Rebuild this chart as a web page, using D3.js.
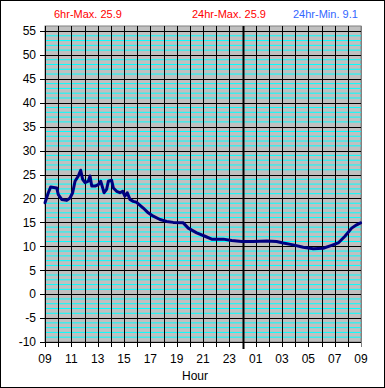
<!DOCTYPE html>
<html>
<head>
<meta charset="utf-8">
<script src="https://cdn.jsdelivr.net/npm/d3@7"></script>
<style>
body { margin: 0; background: #fff; }
svg { display: block; font-family: "Liberation Sans", Arial, sans-serif; }
</style>
</head>
<body>
<div id="chart"></div>
<script>
// hours since 09:00, temperature
var hours = [0.00, 0.25, 0.43, 0.89, 1.01, 1.27, 1.65, 1.90, 2.10, 2.28, 2.53, 2.71, 2.86, 3.04,
    3.29, 3.42, 3.55, 3.80, 4.05, 4.23, 4.38, 4.48, 4.68, 4.81, 5.06, 5.19, 5.44, 5.69, 5.90,
    6.07, 6.25, 6.45, 6.70, 6.96, 7.46, 7.84, 8.22, 8.73, 9.24, 9.74, 10.50, 10.88, 11.52,
    12.15, 12.66, 13.54, 14.18, 14.94, 15.82, 16.83, 17.59, 18.09, 18.85, 19.61, 20.37,
    21.13, 21.77, 22.27, 22.78, 23.29, 23.67, 23.97];
var temps = [19.1, 21.2, 22.4, 22.2, 20.8, 19.8, 19.6, 20.1, 21.2, 23.6, 24.7, 25.9, 24.0, 23.3,
    23.6, 24.7, 22.6, 22.6, 22.9, 23.6, 22.2, 21.2, 21.9, 23.6, 23.8, 22.2, 21.5, 21.2, 21.5,
    20.5, 21.2, 19.8, 19.4, 19.2, 18.0, 17.0, 16.3, 15.6, 15.2, 15.0, 14.9, 13.8, 12.8,
    12.1, 11.5, 11.5, 11.2, 11.0, 11.0, 11.1, 11.0, 10.7, 10.3, 9.8, 9.5,
    9.6, 10.2, 10.7, 12.1, 13.8, 14.5, 14.9];

var xTickLabels = ["09", "11", "13", "15", "17", "19", "21", "23", "01", "03", "05", "07", "09"];
var yTicks = [-10, -5, 0, 5, 10, 15, 20, 25, 30, 35, 40, 45, 50, 55];
var headerTexts = ["6hr-Max. 25.9", "24hr-Max. 25.9", "24hr-Min. 9.1"];
var xTitle = "Hour";

var W = 385, H = 388;
var plotLeft = 45, plotRight = 361, plotTop = 26, plotBottom = 342;

var svg = d3.select("#chart").append("svg")
    .attr("width", W)
    .attr("height", H);

// outer frame
svg.append("rect")
    .attr("x", 0.5).attr("y", 0.5)
    .attr("width", W - 1).attr("height", H - 1)
    .attr("fill", "#fff")
    .attr("stroke", "#000");

var x = d3.scaleLinear().domain([0, 24]).range([plotLeft, plotRight]);
var y = d3.scaleLinear().domain([-10, 55]).range([plotBottom, 31]);

// plot area
svg.append("rect")
    .attr("x", plotLeft).attr("y", plotTop)
    .attr("width", plotRight - plotLeft).attr("height", plotBottom - plotTop)
    .attr("fill", "#c0c0c0")
    .attr("stroke", "#808080");

// minor cyan lines every 1 degree
svg.append("g").selectAll("line")
    .data(d3.range(-9, 56).filter(function(v) { return v % 5 != 0; }))
    .enter().append("line")
    .attr("x1", plotLeft).attr("x2", plotRight)
    .attr("y1", function(d) { return y(d); })
    .attr("y2", function(d) { return y(d); })
    .attr("stroke", "#00ffff")
    .attr("stroke-width", 1);

// major horizontal lines
svg.append("g").selectAll("line")
    .data(yTicks)
    .enter().append("line")
    .attr("x1", plotLeft - 5).attr("x2", plotRight)
    .attr("y1", function(d) { return Math.round(y(d)) + 0.5; })
    .attr("y2", function(d) { return Math.round(y(d)) + 0.5; })
    .attr("stroke", "#000");

// vertical hour lines, midnight thicker
svg.append("g").selectAll("line")
    .data(d3.range(0, 25))
    .enter().append("line")
    .attr("x1", function(d) { return Math.round(x(d)) + 0.5; })
    .attr("x2", function(d) { return Math.round(x(d)) + 0.5; })
    .attr("y1", plotTop)
    .attr("y2", function(d) { return d == 15 ? plotBottom + 7 : plotBottom + 5; })
    .attr("stroke", function(d) { return d == 24 ? "#808080" : "#000"; })
    .attr("stroke-width", function(d) { return d == 15 ? 2 : 1; });

// axis lines
svg.append("line")
    .attr("x1", plotLeft + 0.5).attr("x2", plotLeft + 0.5)
    .attr("y1", plotTop).attr("y2", plotBottom)
    .attr("stroke", "#000");
svg.append("line")
    .attr("x1", plotLeft).attr("x2", plotRight)
    .attr("y1", plotBottom + 0.5).attr("y2", plotBottom + 0.5)
    .attr("stroke", "#000");

// temperature line
var line = d3.line()
    .x(function(d) { return x(d[0]); })
    .y(function(d) { return y(d[1]); });

svg.append("path")
    .datum(d3.zip(hours, temps))
    .attr("d", line)
    .attr("fill", "none")
    .attr("stroke", "#000080")
    .attr("stroke-width", 3)
    .attr("stroke-linejoin", "round")
    .attr("stroke-linecap", "round");

// y labels
svg.append("g").selectAll("text")
    .data(yTicks)
    .enter().append("text")
    .attr("x", 36)
    .attr("y", function(d) { return y(d); })
    .attr("dy", "0.36em")
    .attr("text-anchor", "end")
    .attr("font-size", 12)
    .text(function(d) { return d; });

// x labels
svg.append("g").selectAll("text")
    .data(xTickLabels)
    .enter().append("text")
    .attr("x", function(d, i) { return x(i * 2); })
    .attr("y", 363)
    .attr("text-anchor", "middle")
    .attr("font-size", 12)
    .text(function(d) { return d; });

svg.append("text")
    .attr("x", 195)
    .attr("y", 380)
    .attr("text-anchor", "middle")
    .attr("font-size", 12)
    .text(xTitle);

// header
var headerX = [54, 192, 293];
var headerColor = ["#ff0000", "#ff0000", "#3366ff"];
svg.append("g").selectAll("text")
    .data(headerTexts)
    .enter().append("text")
    .attr("x", function(d, i) { return headerX[i]; })
    .attr("y", 18)
    .attr("font-size", 11)
    .attr("fill", function(d, i) { return headerColor[i]; })
    .text(function(d) { return d; });
</script>
</body>
</html>
